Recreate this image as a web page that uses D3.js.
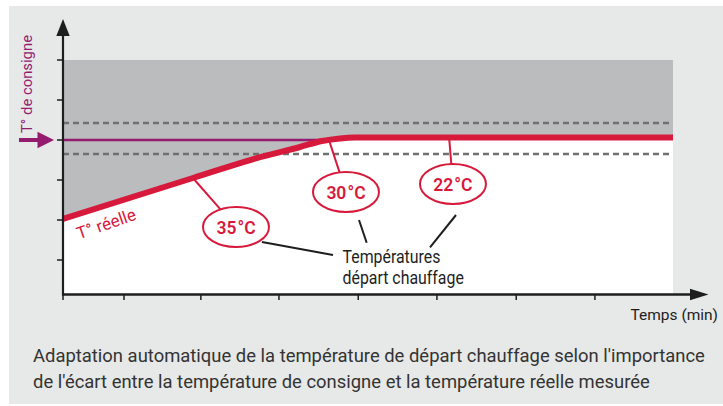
<!DOCTYPE html>
<html><head><meta charset="utf-8">
<script src="https://cdn.jsdelivr.net/npm/d3@7"></script>
<style>body{margin:0;background:#fff}svg{display:block}</style>
</head><body><svg id="c" width="723" height="406"></svg>
<script>
// ---- data ----
const timeTicks = [0, 10, 22.6, 35.4, 48.4, 61.3, 74.3, 87.2];
const tempTicks = [1, 2, 3, 4, 5, 6];
const setpoint = 4;
const bandUpper = 4.425;
const bandLower = 3.65;
const zoneTop = 6;
const curveTime = [0, 21.3, 32.3, 38.85, 42.46, 45.4, 47.87, 100];
const curveTemp = [2.03, 3.05, 3.57, 3.825, 3.975, 4.04, 4.06, 4.06];
const flowLabels = ["35", "30", "22"];
const flowAnchorTime = [21.3, 43.6, 63.3];
const flowAnchorTemp = [3.05, 4.0, 4.06];
const labelTime = [28.36, 46.39, 63.93];
const labelTemp = [1.825, 2.7, 2.9];
const xAxisTitle = "Temps (min)";
const yAxisTitle = "T° de consigne";
const curveTitle = "T° réelle";
const calloutLines = ["Températures", "départ chauffage"];
const caption = ["Adaptation automatique de la température de départ chauffage selon l'importance",
                 "de l'écart entre la température de consigne et la température réelle mesurée"];

// ---- layout ----
const W = 723, H = 406;
const RED = "#d71a3b", PURPLE = "#951b6e", DARK = "#1e1e1e";
const svg = d3.select("#c");
const x = d3.scaleLinear().domain([0, 100]).range([63, 673]);
const y = d3.scaleLinear().domain([0, 6]).range([300, 60]);
const font = "Roboto, 'Open Sans', sans-serif";

svg.append("rect").attr("x", 9).attr("y", 6).attr("width", W - 9).attr("height", 398).attr("fill", "#e7e8e8");

const defs = svg.append("defs");
defs.append("clipPath").attr("id", "plot").append("rect")
  .attr("x", x(0)).attr("y", 0).attr("width", x(100) - x(0)).attr("height", 400);

const pts = curveTime.map((t, i) => [t, curveTemp[i]]);
const g = svg.append("g").attr("clip-path", "url(#plot)");
g.append("rect").attr("x", x(0)).attr("y", y(zoneTop)).attr("width", x(100) - x(0))
  .attr("height", 294 - y(zoneTop)).attr("fill", "#fff");
g.append("path").datum(pts)
  .attr("d", d3.area().x(d => x(d[0])).y0(y(zoneTop)).y1(d => y(d[1])).curve(d3.curveMonotoneX))
  .attr("fill", "#bbbcbe");
[bandUpper, bandLower].forEach(v => {
  g.append("line").attr("x1", x(0)).attr("x2", x(100)).attr("y1", y(v)).attr("y2", y(v))
    .attr("stroke", "#707070").attr("stroke-width", 2.3).attr("stroke-dasharray", "6,4");
});
g.append("line").attr("x1", x(0)).attr("x2", x(45)).attr("y1", y(setpoint)).attr("y2", y(setpoint))
  .attr("stroke", PURPLE).attr("stroke-width", 2.3);
flowLabels.forEach((l, i) => {
  const cx = x(labelTime[i]), cy = y(labelTemp[i]);
  const ax = x(flowAnchorTime[i]), ay = y(flowAnchorTemp[i]);
  const dx = ax - cx, dy = ay - cy;
  const rx = 33, ry = 20;
  const k = 1 / Math.sqrt((dx * dx) / (rx * rx) + (dy * dy) / (ry * ry));
  g.append("line").attr("x1", ax).attr("y1", ay).attr("x2", cx + dx * k).attr("y2", cy + dy * k)
    .attr("stroke", RED).attr("stroke-width", 2);
});
g.append("path").datum(pts)
  .attr("d", d3.line().x(d => x(d[0])).y(d => y(d[1])).curve(d3.curveMonotoneX))
  .attr("fill", "none").attr("stroke", RED).attr("stroke-width", 6);

const blackLeaders = [[262, 242, 333, 255], [359, 220, 366.7, 242.7], [456, 215, 430, 247.3]];
blackLeaders.forEach(b => svg.append("line").attr("x1", b[0]).attr("y1", b[1]).attr("x2", b[2]).attr("y2", b[3])
  .attr("stroke", DARK).attr("stroke-width", 2));

flowLabels.forEach((l, i) => {
  const cx = x(labelTime[i]), cy = y(labelTemp[i]);
  svg.append("ellipse").attr("cx", cx).attr("cy", cy).attr("rx", 33).attr("ry", 20)
    .attr("fill", "#fff").attr("stroke", RED).attr("stroke-width", 2);
  const t = svg.append("text").attr("x", cx).attr("y", cy + 6.5).attr("text-anchor", "middle")
    .attr("font-family", font).attr("font-size", 17.5).attr("font-weight", 600).attr("fill", RED);
  t.append("tspan").text(l);
  t.append("tspan").attr("dx", 1).text("°C");
});

// condensed text helper: horizontal scale so first line fits width
function condensed(lines, x0, y0, lh, size, fill, width) {
  const grp = svg.append("g");
  const texts = lines.map((s, i) => grp.append("text").attr("x", 0).attr("y", i * lh)
    .attr("font-family", font).attr("font-size", size).attr("fill", fill).text(s));
  const w = texts[0].node().getComputedTextLength();
  const sx = width / w;
  grp.attr("transform", `translate(${x0},${y0}) scale(${sx},1)`);
}
condensed(calloutLines, 342.5, 263, 21, 18, DARK, 98);
condensed(caption, 33, 362, 26, 17.5, "#333", 672);

svg.append("text").attr("transform", "translate(79,239.5) rotate(-19)")
  .attr("font-family", font).attr("font-size", 17).attr("fill", RED).text(curveTitle);

// axes
svg.append("line").attr("x1", x(0)).attr("x2", x(0)).attr("y1", 295.5).attr("y2", 34)
  .attr("stroke", DARK).attr("stroke-width", 2.2);
svg.append("path").attr("d", `M${x(0)},19 L${x(0) - 6.7},36 L${x(0) + 6.7},36 Z`).attr("fill", DARK);
svg.append("line").attr("x1", x(0) - 1).attr("x2", 692).attr("y1", 294.5).attr("y2", 294.5)
  .attr("stroke", DARK).attr("stroke-width", 2.4);
svg.append("path").attr("d", `M708.5,294.5 L690,288.8 L690,300.2 Z`).attr("fill", DARK);

svg.append("g").selectAll("line").data(tempTicks).join("line")
  .attr("x1", x(0) - 6).attr("x2", x(0)).attr("y1", d => y(d)).attr("y2", d => y(d))
  .attr("stroke", DARK).attr("stroke-width", 1.5);
svg.append("g").selectAll("line").data(timeTicks).join("line")
  .attr("x1", d => x(d)).attr("x2", d => x(d)).attr("y1", 294.5).attr("y2", 300)
  .attr("stroke", DARK).attr("stroke-width", 1.5);

svg.append("line").attr("x1", 19).attr("x2", 40).attr("y1", y(setpoint)).attr("y2", y(setpoint))
  .attr("stroke", PURPLE).attr("stroke-width", 4);
svg.append("path").attr("d", `M54,${y(setpoint)} L37.5,${y(setpoint) - 8.3} L37.5,${y(setpoint) + 8.3} Z`).attr("fill", PURPLE);

svg.append("text").attr("transform", "translate(32,133) rotate(-90)")
  .attr("font-family", font).attr("font-size", 15).attr("fill", PURPLE)
  .attr("textLength", 98).attr("lengthAdjust", "spacingAndGlyphs").text(yAxisTitle);

svg.append("text").attr("x", 718).attr("y", 319.5).attr("text-anchor", "end")
  .attr("font-family", font).attr("font-size", 15.5).attr("fill", DARK).text(xAxisTitle);
</script></body></html>
